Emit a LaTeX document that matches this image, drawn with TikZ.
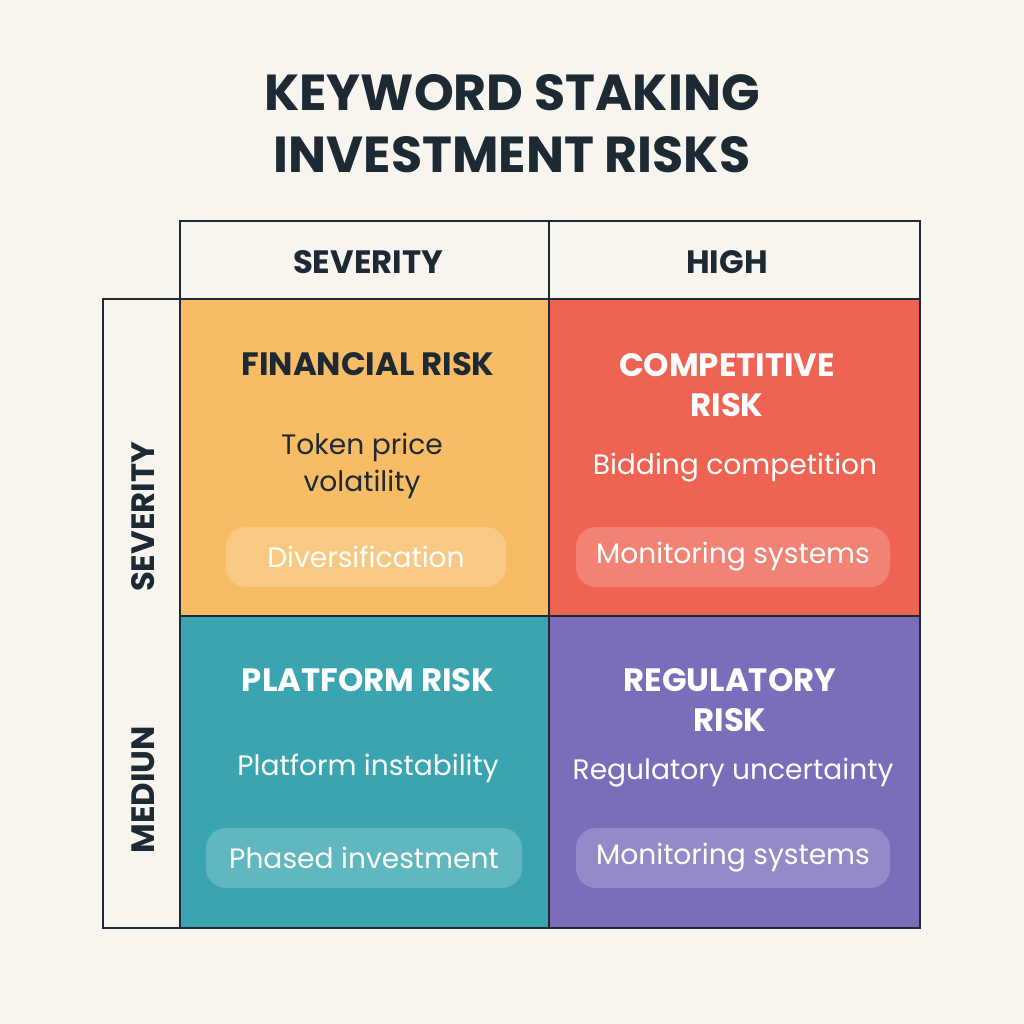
\documentclass[tikz,border=0pt]{standalone}
\usepackage{fontspec}
\setmainfont{Poppins}
\usetikzlibrary{positioning}
\definecolor{bgc}{HTML}{F8F5EF}
\definecolor{inkc}{HTML}{1E2A33}
\definecolor{finc}{HTML}{F7BC64}
\definecolor{compc}{HTML}{EE6352}
\definecolor{platc}{HTML}{3AA5B0}
\definecolor{regc}{HTML}{7B6DBA}
\begin{document}
\begin{tikzpicture}[
        x=0.25mm, y=-0.25mm,
        cell/.style={draw=inkc, line width=1.2pt},
        head/.style={font=\fontsize{23}{26}\selectfont\bfseries, text=inkc},
        ttl/.style={font=\fontsize{23}{28}\selectfont\bfseries, align=center},
        body/.style={font=\fontsize{20}{26}\selectfont, align=center},
        pill/.style={fill=white, fill opacity=0.2, text opacity=1, rounded corners=5mm, minimum height=15mm, font=\fontsize{20}{24}\selectfont}
    ]
        \useasboundingbox[fill=bgc] (0,0) rectangle (1024,1024);
        % Title
        \node[font=\fontsize{36}{44}\selectfont\bfseries, text=inkc, align=center] (title) at (512,124) {KEYWORD STAKING\\INVESTMENT RISKS};

        % Quadrants
        \fill[finc] (180,299) rectangle (549,616);
        \fill[compc] (549,299) rectangle (920,616);
        \fill[platc] (180,616) rectangle (549,928);
        \fill[regc] (549,616) rectangle (920,928);

        % Grid
        \draw[cell] (180,221) rectangle (549,299);
        \draw[cell] (549,221) rectangle (920,299);
        \draw[cell] (103,299) rectangle (180,928);
        \draw[cell] (180,299) rectangle (920,928);
        \draw[cell] (549,299) -- (549,928);
        \draw[cell] (180,616) -- (920,616);

        % Headers
        \node[head] (hsev) at (368,262) {SEVERITY};
        \node[head] (hhigh) at (727,262) {HIGH};
        \node[head, rotate=90] (vsev) at (143,517) {SEVERITY};
        \node[head, rotate=90] (vmed) at (143,790) {MEDIUN};

        % Financial
        \node[ttl, text=inkc] (fin) at (368,364) {FINANCIAL RISK};
        \node[body, text=inkc] (finb) at (362,466) {Token price\\volatility};
        \node[pill, minimum width=70mm, text=white] (finp) at (366,557) {Diversification};

        % Competitive
        \node[ttl, text=white] (comp) at (727,385) {COMPETITIVE\\RISK};
        \node[body, text=white] (compb) at (735,468) {Bidding competition};
        \node[pill, minimum width=78.5mm, text=white] (compp) at (733,557) {Monitoring systems};

        % Platform
        \node[ttl, text=white] (plat) at (368,680) {PLATFORM RISK};
        \node[body, text=white] (platb) at (368,768) {Platform instability};
        \node[pill, minimum width=79mm, text=white] (platp) at (364,858) {Phased investment};

        % Regulatory
        \node[ttl, text=white] (reg) at (730,700) {REGULATORY\\RISK};
        \node[body, text=white] (regb) at (733,773) {Regulatory uncertainty};
        \node[pill, minimum width=78.5mm, text=white] (regp) at (733,858) {Monitoring systems};
\end{tikzpicture}
\end{document}
